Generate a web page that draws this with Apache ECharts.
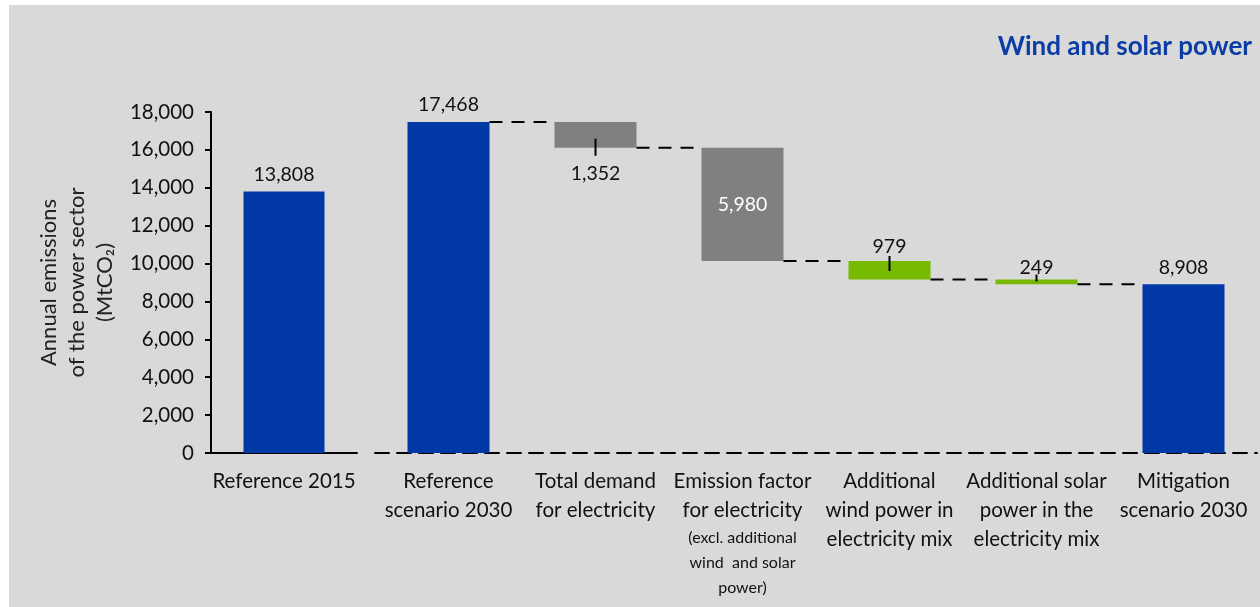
<!DOCTYPE html>
<html>
<head>
<meta charset="utf-8">
<script src="https://cdn.jsdelivr.net/npm/echarts@6/dist/echarts.min.js"></script>
<style>
  html, body { margin: 0; padding: 0; background: #fff; }
  #chart { width: 1260px; height: 607px; }
</style>
</head>
<body>
<div id="chart"></div>
<script>
// data
var categories2015 = ['Reference 2015'];
var reference2015 = [13808];
var categories = [
  'Reference\nscenario 2030',
  'Total demand\nfor electricity',
  'Emission factor\nfor electricity',
  'Additional\nwind power in\nelectricity mix',
  'Additional solar\npower in the\nelectricity mix',
  'Mitigation\nscenario 2030'
];
var categoryNotes = ['', '', '(excl. additional\nwind  and solar\npower)', '', '', ''];
var steps = [17468, 1352, 5980, 979, 249, 8908];
var stepKinds = ['total', 'decrease', 'decrease', 'decrease', 'decrease', 'total'];
var yMin = 0, yMax = 18000, yInterval = 2000;

var BLUE = '#0039A6', GREY = '#808080', GREEN = '#77B900';
var FONT = 'Lato';

// waterfall bases (running total)
var bases = [], levels = [], running = 0;
steps.forEach(function (v, i) {
  if (stepKinds[i] === 'total') { running = v; bases.push(0); }
  else { running -= v; bases.push(running); }
  levels.push(running);
});

function fmt(v) { return v.toLocaleString('en-US'); }

var barColors = [BLUE, GREY, GREY, GREEN, GREEN, BLUE];
var labelCfg = [
  { position: 'top', distance: 7, color: '#111' },
  { position: 'bottom', distance: 16, color: '#111' },
  { position: 'inside', color: '#fff' },
  { position: 'top', distance: 4, color: '#111' },
  { position: 'top', distance: 2, color: '#111' },
  { position: 'top', distance: 7, color: '#111' }
];
// little leader ticks on the labels of the small bars (px offsets from bar edge)
var leaders = { 1: ['bottom', -9, 8], 3: ['top', -5, 10], 4: ['top', -5, 2] };

var myChart = echarts.init(document.getElementById('chart'));
myChart.setOption({
  backgroundColor: '#D9D9D9',
  textStyle: { fontFamily: FONT },
  title: {
    text: 'Wind and solar power',
    right: 3, top: 29,
    textStyle: { color: '#0B3DA5', fontSize: 26, fontWeight: 'bold', fontFamily: FONT }
  },
  graphic: [
    { type: 'rect', left: 0, top: 0, shape: { width: 9, height: 607 }, style: { fill: '#fff' } },
    { type: 'rect', left: 0, top: 0, shape: { width: 1260, height: 5 }, style: { fill: '#fff' } }
  ],
  grid: [
    { left: 211, right: 903, top: 112, bottom: 154 },
    { left: 375, right: 3, top: 112, bottom: 154 }
  ],
  xAxis: [
    {
      type: 'category', gridIndex: 0, data: categories2015,
      axisLine: { lineStyle: { color: '#000', width: 2 } },
      axisTick: { show: false },
      axisLabel: { color: '#111', fontSize: 20.5, lineHeight: 29, margin: 14 }
    },
    {
      type: 'category', gridIndex: 1, data: categories,
      axisLine: { lineStyle: { color: '#000', width: 2, type: [14, 8] } },
      axisTick: { show: false },
      axisLabel: {
        interval: 0, color: '#111', fontSize: 20.5, lineHeight: 29, margin: 14,
        formatter: function (v, i) {
          if (!categoryNotes[i]) return v;
          return v + '\n' + categoryNotes[i].split('\n').map(function (s) { return '{b|' + s + '}'; }).join('\n');
        },
        rich: { b: { fontSize: 16, lineHeight: 25, color: '#111', fontFamily: FONT } }
      }
    }
  ],
  yAxis: [
    {
      type: 'value', gridIndex: 0, min: yMin, max: yMax, interval: yInterval,
      name: 'Annual emissions\nof the power sector\n(MtCO\u2082)',
      nameLocation: 'middle', nameGap: 92, nameRotate: 90,
      nameTextStyle: { color: '#222', fontSize: 22, lineHeight: 28, fontFamily: FONT },
      axisLine: { show: true, lineStyle: { color: '#000', width: 2 } },
      axisTick: { show: true, length: 6, lineStyle: { color: '#000', width: 2 } },
      splitLine: { show: false },
      axisLabel: { color: '#111', fontSize: 20.5, margin: 17, formatter: fmt }
    },
    {
      type: 'value', gridIndex: 1, min: yMin, max: yMax, interval: yInterval,
      show: false, splitLine: { show: false }
    }
  ],
  series: [
    {
      type: 'bar', xAxisIndex: 0, yAxisIndex: 0, barWidth: 81,
      data: reference2015,
      itemStyle: { color: BLUE },
      label: { show: true, position: 'top', distance: 7, color: '#111', fontSize: 19.5, formatter: function (p) { return fmt(p.value); } }
    },
    {
      type: 'bar', xAxisIndex: 1, yAxisIndex: 1, stack: 'w', barWidth: 82,
      data: bases, itemStyle: { color: 'transparent' }, silent: true
    },
    {
      type: 'bar', xAxisIndex: 1, yAxisIndex: 1, stack: 'w', barWidth: 82,
      data: steps.map(function (v, i) {
        return {
          value: v,
          itemStyle: { color: barColors[i] },
          label: Object.assign({ show: true, fontSize: 19.5, formatter: fmt(v) }, labelCfg[i])
        };
      })
    },
    {
      type: 'custom', xAxisIndex: 1, yAxisIndex: 1, silent: true, z: 5,
      data: levels.map(function (lv, i) { return [i, lv]; }),
      renderItem: function (params, api) {
        var i = api.value(0), half = 41, kids = [];
        if (i < steps.length - 1) {
          var p = api.coord([i, levels[i]]), q = api.coord([i + 1, levels[i]]);
          kids.push({ type: 'line', shape: { x1: p[0] + half, y1: p[1], x2: q[0] - half, y2: q[1] },
            style: { stroke: '#000', lineWidth: 2, lineDash: [13, 9] } });
        }
        var ld = leaders[i];
        if (ld) {
          var edge = ld[0] === 'top' ? bases[i] + steps[i] : bases[i];
          var c = api.coord([i, edge]);
          kids.push({ type: 'line', shape: { x1: c[0], y1: c[1] + ld[1], x2: c[0], y2: c[1] + ld[2] },
            style: { stroke: '#000', lineWidth: 2 } });
        }
        return { type: 'group', children: kids };
      }
    }
  ]
});
</script>
</body>
</html>
